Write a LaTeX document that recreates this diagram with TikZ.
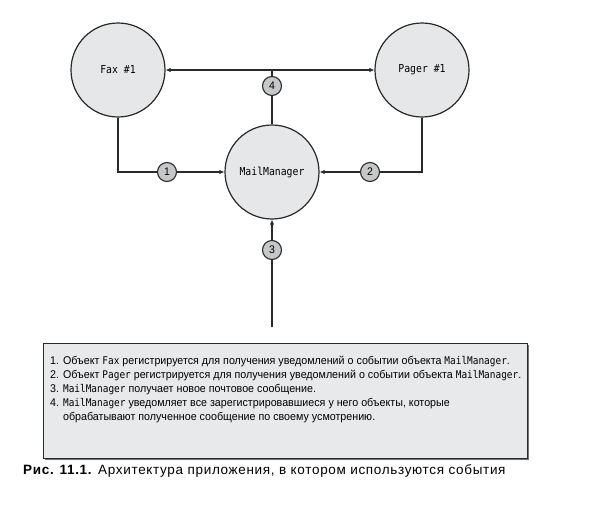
\documentclass[tikz,border=0pt]{standalone}
\usepackage{fontspec}
\setmainfont{Liberation Sans}
\newfontfamily\notefont[FakeStretch=0.955]{Liberation Sans}
\newfontfamily\capfont[LetterSpace=5]{Liberation Sans}
\newfontfamily\codefont[FakeStretch=0.89]{DejaVu Sans Mono}
\usetikzlibrary{arrows.meta}
\definecolor{objgray}{HTML}{E6E7E9}
\definecolor{numgray}{HTML}{C6C7C9}
\definecolor{boxgray}{HTML}{E8E9EB}
\definecolor{inkgray}{HTML}{2A2A2A}
\newcommand{\cw}[1]{{\codefont\fontsize{10.6}{14}\selectfont #1}}
\begin{document}
\begin{tikzpicture}[x=1pt,y=-1pt,
	obj/.style={circle,draw=inkgray,fill=objgray,line width=1.2pt,minimum size=94pt,inner sep=0pt,font=\codefont\fontsize{11}{12}\selectfont},
	num/.style={circle,draw=inkgray,fill=numgray,line width=1.1pt,minimum size=19pt,inner sep=0pt,font=\notefont\fontsize{11}{11}\selectfont},
	link/.style={draw=inkgray,line width=1.2pt},
	arr/.style={-{Latex[length=5pt,width=4.5pt]}}]
	\fill[white] (0,0) rectangle (606,506);
	%objects
	\node[obj] (fax) at (118,70) {Fax \#1};
	\node[obj] (pager) at (422,70) {Pager \#1};
	\node[obj] (mail) at (272,172) {MailManager};
	\coordinate (top) at (mail.north |- fax.east);
	\coordinate (src) at (272,327);
	%links
	\draw [link,arr] (fax.south) |- (mail.west);
	\draw [link,arr] (pager.south) |- (mail.east);
	\draw [link,arr] (src) -- (mail.south);
	\draw [link,{Latex[length=5pt,width=4.5pt]}-{Latex[length=5pt,width=4.5pt]}] (fax.east) -- (pager.west);
	\draw [link] (mail.north) -- (top);
	%steps
	\node[num] (n1) at (167,172) {1};
	\node[num] (n2) at (370,172) {2};
	\node[num] (n3) at (272,250) {3};
	\node[num] (n4) at (272,86) {4};
	%notes
	\fill[black!55] (44.5,344.5) rectangle (529,460);
	\draw[fill=boxgray,draw=inkgray,line width=0.9pt] (43,343) rectangle (527,458);
	\node[anchor=north west,align=left,inner sep=0pt,font=\notefont\fontsize{11.2}{14}\selectfont] (notes) at (50,356)
	{1. Объект \cw{Fax} регистрируется для получения уведомлений о событии объекта \cw{MailManager}.\\
	2. Объект \cw{Pager} регистрируется для получения уведомлений о событии объекта \cw{MailManager}.\\
	3. \cw{MailManager} получает новое почтовое сообщение.\\
	4. \cw{MailManager} уведомляет все зарегистрировавшиеся у него объекты, которые\\
	\phantom{4. }обрабатывают полученное сообщение по своему усмотрению.};
	%caption
	\node[anchor=base west,inner sep=0pt,font=\capfont\fontsize{13.5}{15}\selectfont] (caption) at (23,474)
	{\textbf{Рис. 11.1.} Архитектура приложения, в котором используются события};
\end{tikzpicture}
\end{document}
